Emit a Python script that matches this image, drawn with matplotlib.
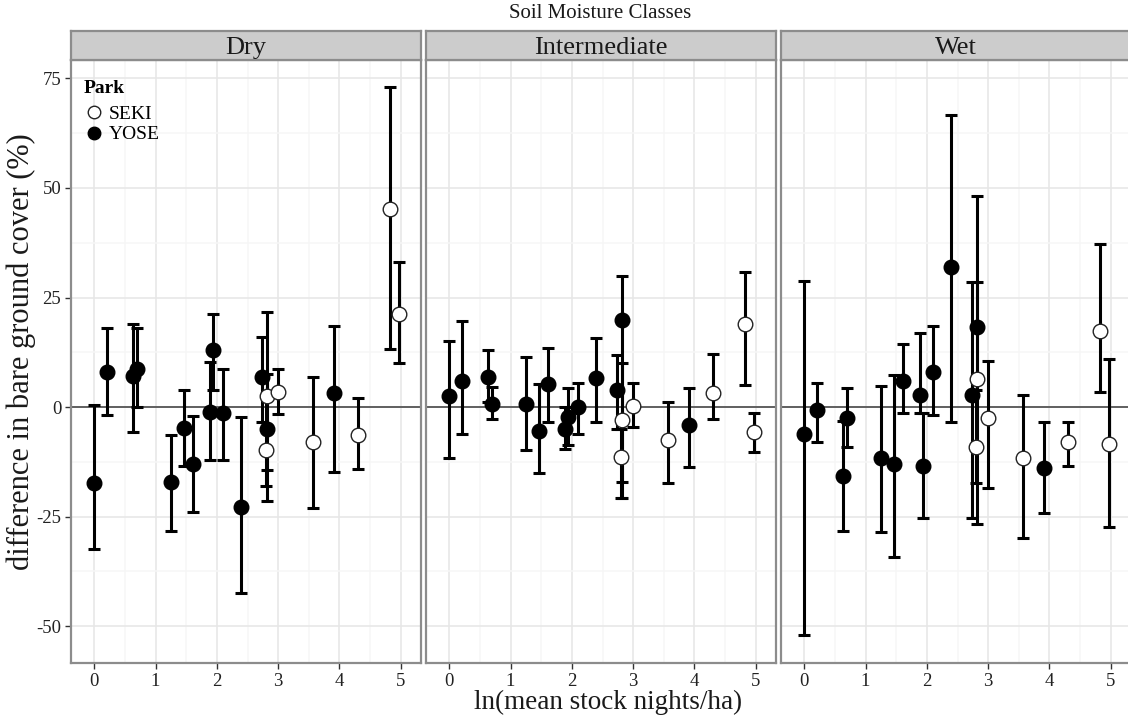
import numpy as np
import matplotlib
matplotlib.use("Agg")
import matplotlib.pyplot as plt
from matplotlib.lines import Line2D
from matplotlib.ticker import MultipleLocator

plt.rcParams['font.family'] = ['Liberation Serif', 'DejaVu Serif']
plt.rcParams['axes.unicode_minus'] = False

### DATA ###
# same sites in every panel (x = ln of mean stock nights/ha)
site_x = [0.00, 0.21, 0.63, 0.69, 1.25, 1.46, 1.61, 1.89, 1.93, 2.10, 2.39,
          2.74, 2.81, 2.82, 2.80, 3.00, 3.57, 3.91, 4.30, 4.83, 4.97]
site_park = ['YOSE'] * 13 + ['SEKI'] * 4 + ['YOSE'] + ['SEKI'] * 3

panels = ['Dry', 'Intermediate', 'Wet']

dry_y = [-17.4, 7.9, 7.1, 8.8, -17.2, -4.7, -13.1, -1.1, 13.0, -1.3, -22.8,
         6.8, -4.9, 2.5, -9.8, 3.5, -7.9, 3.1, -6.4, 45.2, 21.2]
dry_lo = [-32.4, -1.8, -5.7, 0.1, -28.3, -13.5, -23.9, -12.1, 3.9, -12.1, -42.5,
          -3.3, -21.5, -14.4, -18.0, -1.6, -23.1, -14.9, -14.2, 13.2, 10.0]
dry_hi = [0.5, 18.0, 19.0, 18.0, -6.4, 4.0, -2.1, 10.3, 21.2, 8.7, -2.2,
          16.1, 21.6, 7.5, 2.5, 8.6, 6.8, 18.5, 2.0, 73.1, 33.0]

int_y = [2.5, 5.9, 6.9, 0.8, 0.7, -5.5, 5.3, -4.9, -2.2, 0.0, 6.7,
         3.9, 19.9, -3.0, -11.3, 0.2, -7.4, -4.1, 3.1, 18.9, -5.6]
int_lo = [-11.7, -6.1, 1.1, -2.7, -9.7, -15.1, -3.4, -9.6, -8.7, -6.1, -3.4,
          -4.9, -20.7, -17.0, -20.7, -4.6, -17.4, -13.7, -2.8, 5.0, -10.2]
int_hi = [15.1, 19.6, 13.1, 4.5, 11.5, 5.2, 13.5, 0.1, 4.3, 5.6, 15.8,
          11.9, 30.0, 10.0, -4.9, 5.6, 1.1, 4.3, 12.2, 30.8, -1.4]

wet_y = [-6.2, -0.7, -15.8, -2.6, -11.7, -13.1, 6.0, 2.7, -13.4, 8.1, 32.0,
         2.7, 18.3, 6.5, -9.1, -2.4, -11.7, -14.0, -7.9, 17.4, -8.4]
wet_lo = [-52.1, -7.9, -28.2, -9.2, -28.5, -34.3, -1.3, -1.3, -25.4, -1.8, -3.4,
          -25.4, -26.6, -9.1, -17.3, -18.4, -29.8, -24.1, -13.5, 3.4, -27.3]
wet_hi = [28.8, 5.6, -3.1, 4.3, 4.8, 7.3, 14.4, 16.8, -1.3, 18.5, 66.7,
          28.6, 48.2, 28.6, 3.9, 10.5, 2.7, -3.4, -3.4, 37.1, 11.0]

panel_data = {
    'Dry': (dry_y, dry_lo, dry_hi),
    'Intermediate': (int_y, int_lo, int_hi),
    'Wet': (wet_y, wet_lo, wet_hi),
}

### FIGURE ###
W, H = 1128, 715
fig = plt.figure(figsize=(W / 100, H / 100), dpi=100)

# panel boxes in pixels
pan_left = [71, 426, 781]
pan_w, pan_top, pan_bot = 350, 60, 663
strip_top = 31

x = np.array(site_x)
park = np.array(site_park)

for i, name in enumerate(panels):
    l = pan_left[i]
    ax = fig.add_axes([l / W, 1 - pan_bot / H, pan_w / W, (pan_bot - pan_top) / H])
    y, lo, hi = [np.array(v) for v in panel_data[name]]

    ax.set_xlim(-0.38, 5.33)
    ax.set_ylim(-58.4, 79.2)
    ax.xaxis.set_major_locator(MultipleLocator(1))
    ax.xaxis.set_minor_locator(MultipleLocator(0.5))
    ax.yaxis.set_major_locator(MultipleLocator(25))
    ax.yaxis.set_minor_locator(MultipleLocator(12.5))
    ax.grid(which='major', color='#e6e6e6', lw=1.1)
    ax.grid(which='minor', color='#f6f6f6', lw=1.1)
    ax.set_axisbelow(True)
    for s in ax.spines.values():
        s.set_color('#8c8c8c')
        s.set_linewidth(1.6)

    ax.axhline(0, color='#555555', lw=1.3, zorder=1)

    ax.errorbar(x, y, yerr=[y - lo, hi - y], fmt='none', ecolor='black',
                elinewidth=2.2, capsize=4.5, capthick=2.2, zorder=2)
    seki = park == 'SEKI'
    ax.plot(x[seki], y[seki], 'o', ms=10.5, mfc='white', mec='#222222', mew=1.0, zorder=3)
    ax.plot(x[~seki], y[~seki], 'o', ms=10.5, mfc='black', mec='black', mew=1.0, zorder=4)

    ax.tick_params(axis='both', which='major', length=4, color='#333333',
                   labelsize=13.5, labelcolor='#222222', width=1, pad=3)
    ax.tick_params(which='minor', length=0)
    ax.set_yticks([-50, -25, 0, 25, 50, 75])
    if i > 0:
        ax.tick_params(axis='y', length=0, labelleft=False)

    # strip on top of each panel
    sax = fig.add_axes([l / W, 1 - pan_top / H, pan_w / W, (pan_top - strip_top) / H])
    sax.set_facecolor('#cccccc')
    sax.set_xticks([])
    sax.set_yticks([])
    for s in sax.spines.values():
        s.set_color('#8c8c8c')
        s.set_linewidth(1.6)
    sax.text(0.5, 0.42, name, ha='center', va='center', fontsize=19, color='#1a1a1a',
             transform=sax.transAxes)

    if i == 0:
        handles = [
            Line2D([], [], marker='o', ls='none', ms=9, mfc='white', mec='#222222', mew=1.0),
            Line2D([], [], marker='o', ls='none', ms=9, mfc='black', mec='black'),
        ]
        leg = ax.legend(handles, ['SEKI', 'YOSE'], title='Park', loc='upper left',
                        bbox_to_anchor=(0.015, 0.98), frameon=False, fontsize=14,
                        title_fontproperties={'weight': 'bold', 'size': 14},
                        handlelength=1.0, handletextpad=0.25, labelspacing=0.15,
                        borderaxespad=0.2, borderpad=0.2)
        leg._legend_box.align = 'left'
        leg._legend_box.sep = 6

fig.text(600 / W, 1 - 13 / H, 'Soil Moisture Classes', ha='center', va='center',
         fontsize=15, color='#1a1a1a')
fig.text(608 / W, 1 - 702 / H, 'ln(mean stock nights/ha)', ha='center', va='center',
         fontsize=19.5, color='#1a1a1a')
fig.text(21 / W, 1 - 352 / H, 'difference in bare ground cover (%)', ha='center',
         va='center', rotation=90, fontsize=22, color='#1a1a1a')

fig.savefig('out.png', dpi=100)
